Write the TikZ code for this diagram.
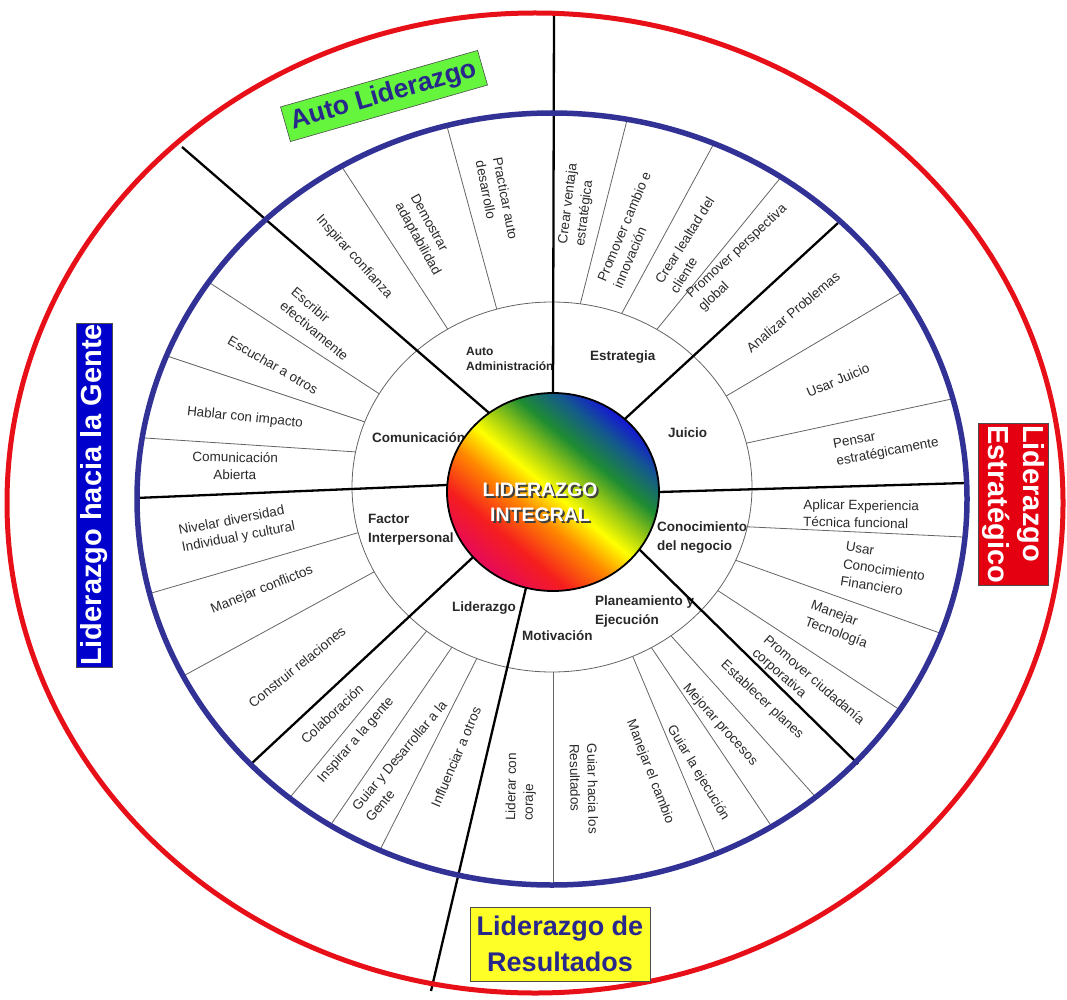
\documentclass[tikz,border=0pt]{standalone}
\usepackage{fontspec}
\setmainfont{Liberation Sans}
\definecolor{ringblue}{RGB}{50,50,150}
\definecolor{ringred}{RGB}{232,16,24}
\definecolor{itemgray}{RGB}{42,42,42}
\definecolor{catgray}{RGB}{40,40,40}
\definecolor{dividergray}{RGB}{100,100,100}
\definecolor{bannerblue}{RGB}{40,40,140}
\definecolor{autogreen}{RGB}{100,245,60}
\definecolor{gentblue}{RGB}{0,0,205}
\definecolor{estrred}{RGB}{228,0,16}
\definecolor{resyellow}{RGB}{255,255,40}
\definecolor{rbmag}{RGB}{230,10,90}
\definecolor{rbred}{RGB}{245,30,30}
\definecolor{rborange}{RGB}{255,135,0}
\definecolor{rbyellow}{RGB}{255,255,0}
\definecolor{rblime}{RGB}{150,200,20}
\definecolor{rbgreen}{RGB}{30,140,50}
\definecolor{rbteal}{RGB}{20,90,140}
\definecolor{rbblue}{RGB}{20,20,215}
\pgfdeclarehorizontalshading{rainbowdisc}{100bp}{color(0bp)=(rbmag); color(25bp)=(rbmag); color(34bp)=(rbred); color(43bp)=(rborange); color(50bp)=(rbyellow); color(56bp)=(rblime); color(62bp)=(rbgreen); color(69bp)=(rbteal); color(75bp)=(rbblue); color(100bp)=(rbblue)}

\begin{document}
\begin{tikzpicture}[x=1pt, y=-1pt]
  \tikzset{item/.style = {font=\fontsize{13.5}{17.5}\selectfont, text=itemgray, align=center, inner sep=0pt}}
  \tikzset{itemleft/.style = {item, align=left}}
  \tikzset{catlabel/.style = {font=\bfseries\fontsize{13.5}{19}\selectfont, text=catgray, align=left, inner sep=0pt, anchor=west}}
  \tikzset{spoke/.style = {line width=2.3pt, black, shorten <=-15pt}}
  \tikzset{divider/.style = {line width=0.8pt, dividergray, shorten <=-10pt, shorten >=-10pt}}
  \tikzset{banner/.style = {font=\bfseries\fontsize{27}{36}\selectfont, draw=black!70, line width=0.6pt, inner sep=1pt}}
  \useasboundingbox (0,0) rectangle (1067,1000);

  % thin dividers between the items
  \begin{scope}
    \clip (552,499) ellipse [x radius=413, y radius=384];
    \foreach \xa/\ya/\xb/\yb in {497/310/448/130, 447/328/342/167,
      580/305/627/120, 622/313/712/147, 658/328/777/182,
      728/395/897/295, 747/443/947/400,
      752/527/963/537, 735/560/937/632, 720/592/897/708,
      673/638/812/793, 653/650/772/827, 633/657/715/852, 553/672/553/887,
      475/662/380/850, 450/650/332/823, 425/633/292/795,
      372/573/187/674, 357/533/155/592,
      357/452/145/438, 365/422/173/358, 378/393/213/285}
      \draw[divider] (\xa,\ya) -- (\xb,\yb);
  \end{scope}
  \draw[fill=white, draw=dividergray, line width=0.8pt] (552,487) ellipse [x radius=200, y radius=185];

  % items of the outer ring
  \node[name = inspconf, item, rotate=-48] at (354,257) {Inspirar confianza};
  \node[name = demoadap, itemleft, rotate=-61] at (425,235) {Demostrar\\adaptabilidad};
  \node[name = pracauto, itemleft, rotate=-79] at (497,200) {Practicar auto\\desarrollo};
  \node[name = creavent, itemleft, rotate=83] at (577,205) {Crear ventaja\\estratégica};
  \node[name = promcamb, itemleft, rotate=67] at (632,230) {Promover cambio e\\innovación};
  \node[name = crealeal, itemleft, rotate=58] at (692,245) {Crear lealtad del\\cliente};
  \node[name = prompers, itemleft, rotate=43] at (743,258) {Promover perspectiva\\global};
  \node[name = analprob, item, rotate=40] at (793,312) {Analizar Problemas};
  \node[name = usarjuic, item, rotate=23] at (838,380) {Usar Juicio};
  \node[name = pensestr, itemleft, rotate=11] at (886,444) {Pensar\\estratégicamente};
  \node[name = apliexpe, itemleft, rotate=-1] at (861,514) {Aplicar Experiencia\\Técnica funcional};
  \node[name = usarfina, itemleft, rotate=-9] at (884,570) {Usar\\Conocimiento\\Financiero};
  \node[name = manetecn, itemleft, rotate=-20] at (839,625) {Manejar\\Tecnología};
  \node[name = promciud, itemleft, rotate=-41] at (808,687) {Promover ciudadanía\\corporativa};
  \node[name = estaplan, item, rotate=-43] at (762,700) {Establecer planes};
  \node[name = mejoproc, item, rotate=-48] at (720,725) {Mejorar procesos};
  \node[name = guiaejec, item, rotate=-59] at (698,773) {Guiar la ejecución};
  \node[name = manecamb, item, rotate=-69] at (650,772) {Manejar el cambio};
  \node[name = guiaresu, itemleft, rotate=-89] at (584,789) {Guiar hacia los\\Resultados};
  \node[name = lidecora, itemleft, rotate=89] at (521,787) {Liderar con\\coraje};
  \node[name = influotr, item, rotate=67] at (456,757) {Influenciar a otros};
  \node[name = guiadesa, itemleft, rotate=50] at (406,761) {Guiar y Desarrollar a la\\Gente};
  \node[name = inspgent, item, rotate=49] at (356,740) {Inspirar a la gente};
  \node[name = colabora, item, rotate=43] at (332,714) {Colaboración};
  \node[name = construi, item, rotate=39] at (297,667) {Construir relaciones};
  \node[name = maneconf, item, rotate=22] at (262,590) {Manejar conflictos};
  \node[name = niveldiv, itemleft, rotate=11] at (237,529) {Nivelar diversidad\\Individual y cultural};
  \node[name = comuabie, item, rotate=-1] at (235,466) {Comunicación\\Abierta};
  \node[name = hablimpa, item, rotate=-6] at (245,418) {Hablar con impacto};
  \node[name = escuotro, item, rotate=-30] at (273,365) {Escuchar a otros};
  \node[name = escrefec, itemleft, rotate=-40] at (320,324) {Escribir\\efectivamente};

  % categories of the inner ring
  \node[name = autoadm, catlabel, font=\bfseries\fontsize{12}{15}\selectfont] at (466,359) {Auto\\Administración};
  \node[name = estrat, catlabel] at (590,357) {Estrategia};
  \node[name = juicio, catlabel] at (668,433) {Juicio};
  \node[name = conoci, catlabel] at (657,538) {Conocimiento\\del negocio};
  \node[name = planea, catlabel] at (595,612) {Planeamiento y\\Ejecución};
  \node[name = motiva, catlabel] at (522,636) {Motivación};
  \node[name = lideraz, catlabel] at (452,608) {Liderazgo};
  \node[name = factor, catlabel] at (368,530) {Factor\\Interpersonal};
  \node[name = comunic, catlabel] at (372,438) {Comunicación};

  % thick spokes
  \draw[spoke] (553,400) -- (554,11);
  \draw[spoke] (627,417) -- (838,223);
  \draw[spoke] (659,492) -- (966,483);
  \draw[spoke] (642,552) -- (858,764);
  \draw[spoke] (525,592) -- (431,991);
  \draw[spoke] (470,560) -- (251,764);
  \draw[spoke] (447,485) -- (136,498);
  \draw[spoke] (488,412) -- (182,147);

  % hub
  \shade[shading=rainbowdisc, shading angle=50] (553,492) ellipse [x radius=106, y radius=99];
  \draw[line width=1.8pt] (553,492) ellipse [x radius=106, y radius=99];
  \node[name = hubshadow, font=\bfseries\fontsize{19.5}{25}\selectfont, text=black!75, align=center] at (542,504) {LIDERAZGO\\INTEGRAL};
  \node[name = hubtext, font=\bfseries\fontsize{19.5}{25}\selectfont, text=white, align=center] at (540,502) {LIDERAZGO\\INTEGRAL};

  % rings
  \draw[ringblue, line width=5.5pt] (552,499) ellipse [x radius=415, y radius=386];
  \draw[ringred, line width=5pt] (535,503) ellipse [x radius=528, y radius=490];

  % banners
  \node[name = autolid, banner, fill=autogreen, text=bannerblue, font=\bfseries\fontsize{26.5}{30}\selectfont, rotate=16, minimum width=205, minimum height=36] at (384,96) {Auto Liderazgo};
  \node[name = gentelid, banner, fill=gentblue, text=white, font=\bfseries\fontsize{29}{32}\selectfont, rotate=90, minimum width=343, minimum height=36] at (94,495) {Liderazgo hacia la Gente};
  \node[name = estrlid, banner, fill=estrred, text=white, font=\bfseries\fontsize{29}{35}\selectfont, align=left, rotate=-90, minimum width=162, minimum height=70] at (1013,504) {Liderazgo\\Estratégico};
  \node[name = resulid, banner, fill=resyellow, text=bannerblue, align=center, minimum width=180, minimum height=74] at (560,944) {Liderazgo de\\Resultados};
\end{tikzpicture}
\end{document}
